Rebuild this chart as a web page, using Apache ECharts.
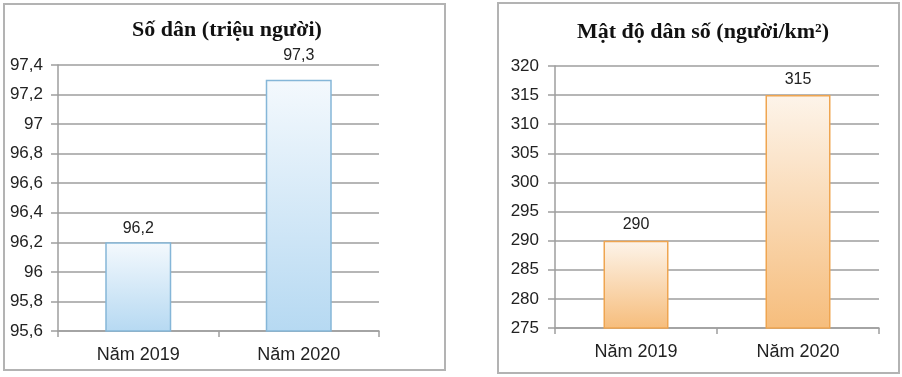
<!DOCTYPE html>
<html><head><meta charset="utf-8">
<script src="https://cdn.jsdelivr.net/npm/echarts@6/dist/echarts.min.js"></script>
<style>html,body{margin:0;padding:0;background:#fff}#c{width:902px;height:377px}</style>
</head><body><div id="c"></div>
<script>
const categories = ['Năm 2019', 'Năm 2020'];
const popValues = [96.2, 97.3];
const densityValues = [290, 315];
const popTitle = 'Số dân (triệu người)';
const densityTitle = 'Mật độ dân số (người/km²)';

const fmt = v => String(Math.round(v * 10) / 10).replace('.', ',');
const chart = echarts.init(document.getElementById('c'));
const gridLine = { show: true, lineStyle: { color: '#9e9e9e', width: 1.5 } };
const axisLine = { show: true, lineStyle: { color: '#9e9e9e', width: 1.5 } };
function yAxis(idx, min, max, interval, margin) {
  return { type: 'value', gridIndex: idx, min, max, interval,
    axisLine, axisTick: { show: true, length: 7, lineStyle: { color: '#9e9e9e', width: 1.5 } },
    splitLine: gridLine,
    axisLabel: { fontFamily: 'Liberation Sans, Arial', fontSize: 17, color: '#222', margin, formatter: fmt } };
}
function xAxis(idx) {
  return { type: 'category', gridIndex: idx, data: categories,
    axisLine, axisTick: { show: true, length: 6, lineStyle: { color: '#9e9e9e', width: 1.5 } },
    axisLabel: { fontFamily: 'Liberation Sans, Arial', fontSize: 18, color: '#222', margin: 15 } };
}
function grad(top, bottom) {
  return new echarts.graphic.LinearGradient(0, 0, 0, 1, [{ offset: 0, color: top }, { offset: 1, color: bottom }]);
}
const labelFont = { fontFamily: 'Liberation Sans, Arial', fontSize: 16, color: '#222' };
chart.setOption({
  animation: false,
  title: [
    { text: popTitle, left: 222, top: 14, textAlign: 'center',
      textStyle: { fontFamily: 'Liberation Serif, Times New Roman', fontWeight: 'bold', fontSize: 22, color: '#111' } },
    { text: densityTitle, left: 698, top: 16, textAlign: 'center',
      textStyle: { fontFamily: 'Liberation Serif, Times New Roman', fontWeight: 'bold', fontSize: 22, color: '#111' } }
  ],
  graphic: [
    { type: 'rect', shape: { x: 4, y: 4, width: 441, height: 366 }, style: { fill: 'none', stroke: '#b3b3b3', lineWidth: 2 } },
    { type: 'rect', shape: { x: 498, y: 3, width: 401, height: 370 }, style: { fill: 'none', stroke: '#b3b3b3', lineWidth: 2 } }
  ],
  grid: [
    { left: 58, top: 65, width: 321, height: 266 },
    { left: 555, top: 66, width: 324, height: 262 }
  ],
  xAxis: [xAxis(0), xAxis(1)],
  yAxis: [yAxis(0, 95.6, 97.4, 0.2, 15), yAxis(1, 275, 320, 5, 16)],
  series: [
    { type: 'bar', xAxisIndex: 0, yAxisIndex: 0, barWidth: 66,
      data: popValues.map((v, i) => i === 1 ? { value: v, label: { distance: 16 } } : v),
      itemStyle: { color: grad('#f4f9fd', '#b6d9f2'), borderColor: '#85b6d8', borderWidth: 1.5 },
      label: Object.assign({ show: true, position: 'top', distance: 6, formatter: p => fmt(p.value) }, labelFont) },
    { type: 'bar', xAxisIndex: 1, yAxisIndex: 1, data: densityValues, barWidth: 65,
      itemStyle: { color: grad('#fdf4ea', '#f6bd7c'), borderColor: '#efa550', borderWidth: 1.5 },
      label: Object.assign({ show: true, position: 'top', distance: 8 }, labelFont) }
  ]
});
</script></body></html>
